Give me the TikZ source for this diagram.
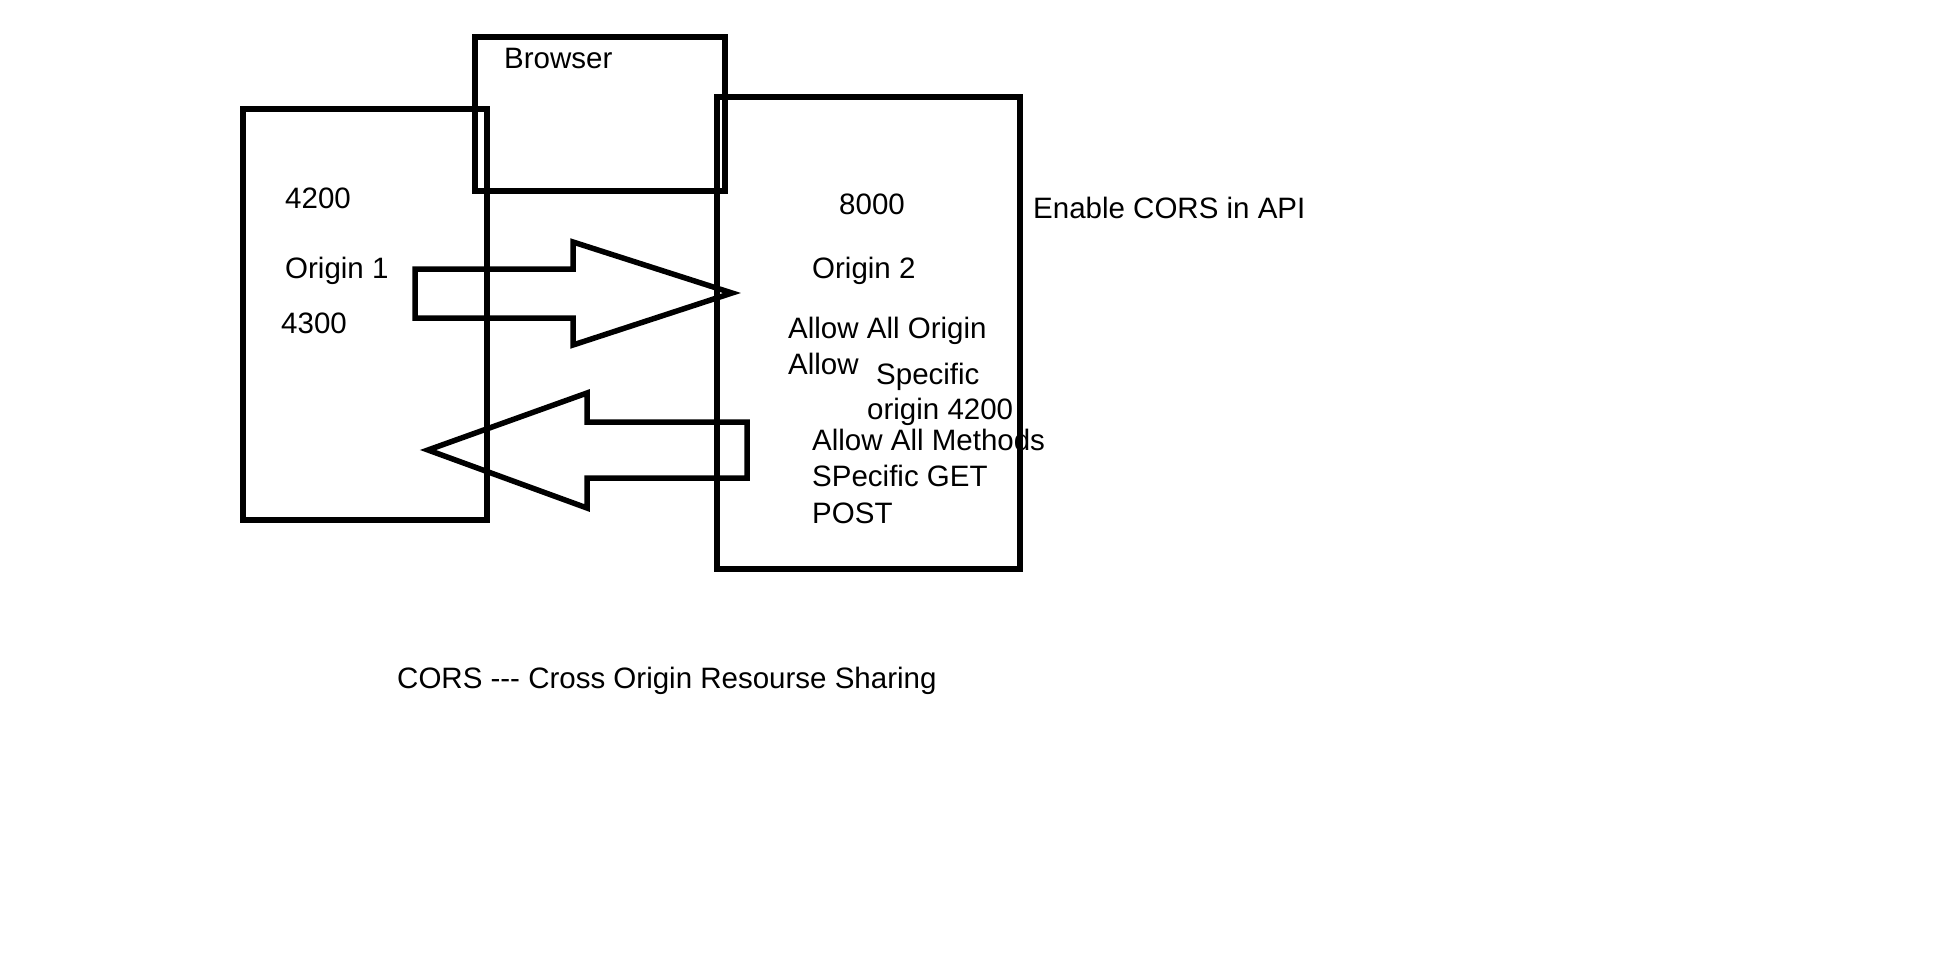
\documentclass[tikz,border=0pt]{standalone}
\usepackage{fontspec}
\setmainfont{Liberation Sans}[Ligatures=NoCommon]
\begin{document}
\begin{tikzpicture}[x=1pt,y=-1pt,
  box/.style={draw,line width=5.5pt,inner sep=0pt,outer sep=0pt},
  blockarrow/.style={draw,line width=5.5pt,line join=miter},
  lbl/.style={anchor=base west,inner sep=0pt,font=\fontsize{29.5}{34}\selectfont}]
\useasboundingbox[fill=white] (0,0) rectangle (1940,958);
% boxes
\node[box,minimum width=244pt,minimum height=411pt] (origin1) at (365,314.5) {};
\node[box,minimum width=250pt,minimum height=154pt] (browser) at (600,114) {};
\node[box,minimum width=303pt,minimum height=472pt] (origin2) at (868.5,333) {};
% block arrows
\draw[blockarrow] (415,269) -- (573,269) -- (573,242) -- (732,293) -- (573,345) -- (573,318) -- (415,318) -- cycle;
\draw[blockarrow] (747,422) -- (587,422) -- (587,393) -- (428,450) -- (587,508) -- (587,478) -- (747,478) -- cycle;
% labels
\node[lbl] (tbrowser) at (504,69) {Browser};
\node[lbl] (t4200) at (285,208) {4200};
\node[lbl] (torigin1) at (285,278) {Origin 1};
\node[lbl] (t4300) at (281,333) {4300};
\node[lbl] (t8000) at (839,214) {8000};
\node[lbl] (torigin2) at (812,278) {Origin 2};
\node[lbl] (tallorigin) at (788,338) {Allow All Origin};
\node[lbl] (tallow) at (788,374) {Allow};
\node[lbl] (tspecific) at (876,384) {Specific};
\node[lbl] (tspecorigin) at (867,419) {origin 4200};
\node[lbl] (tallmethods) at (812,450) {Allow All Methods};
\node[lbl] (tget) at (812,486) {SPecific GET};
\node[lbl] (tpost) at (812,523) {POST};
\node[lbl] (tenable) at (1033,218) {Enable CORS in API};
\node[lbl] (tcors) at (397,688) {CORS -{}-{}- Cross Origin Resourse Sharing};
\end{tikzpicture}
\end{document}
